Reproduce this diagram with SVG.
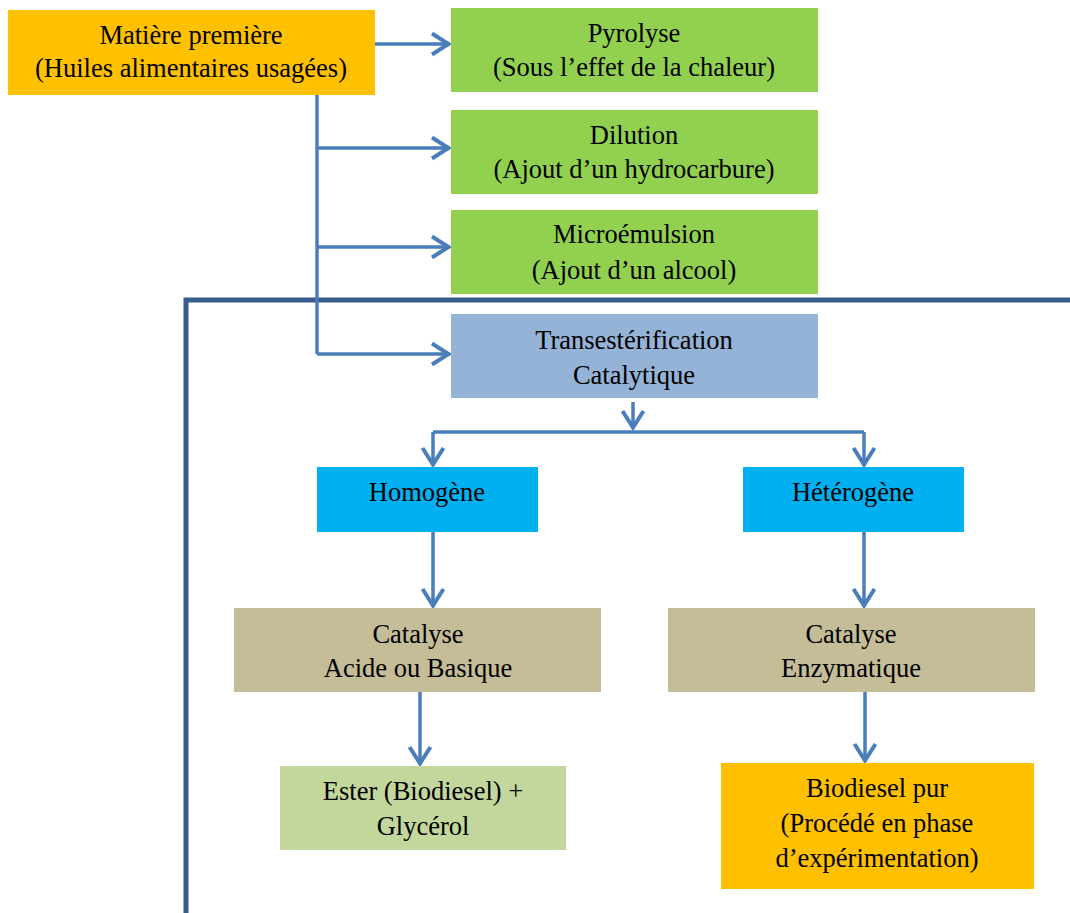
<svg xmlns="http://www.w3.org/2000/svg" width="1070" height="913" viewBox="0 0 1070 913">
<style>
text{font-size:26.5px;fill:#000;text-anchor:middle}
.c{fill:none;stroke:#4A7EBB;stroke-width:3.5}
.frame{fill:none;stroke:#385D8A;stroke-width:5}
</style>
<defs>
<marker id="ah" markerUnits="userSpaceOnUse" markerWidth="30" markerHeight="30" viewBox="-20 -15 30 30" refX="0" refY="0" orient="auto" overflow="visible">
<path d="M-18,-10.5 L-1.5,0 L-18,10.5" fill="none" stroke="#4A7EBB" stroke-width="4"/>
</marker>
</defs>
<rect width="1070" height="913" fill="#fff"/>
<g id="frame"><path class="frame" d="M186,913 V300 H1070"/></g>
<g id="connectors">
<path class="c" d="M375,44 H450" marker-end="url(#ah)"/>
<path class="c" d="M317,95 V354"/>
<path class="c" d="M317,148 H450" marker-end="url(#ah)"/>
<path class="c" d="M317,247 H450" marker-end="url(#ah)"/>
<path class="c" d="M317,354 H450" marker-end="url(#ah)"/>
<path class="c" d="M633,402 V429" marker-end="url(#ah)"/>
<path class="c" d="M433,432 H864"/>
<path class="c" d="M433,432 V466" marker-end="url(#ah)"/>
<path class="c" d="M864,432 V466" marker-end="url(#ah)"/>
<path class="c" d="M433,532 V607" marker-end="url(#ah)"/>
<path class="c" d="M864,532 V607" marker-end="url(#ah)"/>
<path class="c" d="M420,692 V765" marker-end="url(#ah)"/>
<path class="c" d="M865,692 V762" marker-end="url(#ah)"/>
</g>
<g font-family="Liberation Serif, Times New Roman, serif">
<g id="matiere"><rect x="8" y="10" width="367" height="85" fill="#FFC000"/><text x="191" y="44">Matière première</text><text x="191" y="77">(Huiles alimentaires usagées)</text></g>
<g id="pyrolyse"><rect x="451" y="8" width="367" height="84" fill="#92D050"/><text x="634" y="42">Pyrolyse</text><text x="634" y="76">(Sous l’effet de la chaleur)</text></g>
<g id="dilution"><rect x="451" y="110" width="367" height="84" fill="#92D050"/><text x="634" y="144">Dilution</text><text x="634" y="178">(Ajout d’un hydrocarbure)</text></g>
<g id="microemulsion"><rect x="451" y="210" width="367" height="84" fill="#92D050"/><text x="634" y="243">Microémulsion</text><text x="634" y="279">(Ajout d’un alcool)</text></g>
<g id="transesterification"><rect x="451" y="314" width="367" height="84" fill="#95B3D7"/><text x="634" y="349">Transestérification</text><text x="634" y="384">Catalytique</text></g>
<g id="homogene"><rect x="317" y="467" width="221" height="65" fill="#00B0F0"/><text x="427" y="501">Homogène</text></g>
<g id="heterogene"><rect x="743" y="467" width="221" height="65" fill="#00B0F0"/><text x="853" y="501">Hétérogène</text></g>
<g id="catalyse-acide"><rect x="234" y="608" width="367" height="84" fill="#C4BD97"/><text x="418" y="643">Catalyse</text><text x="418" y="677">Acide ou Basique</text></g>
<g id="catalyse-enzymatique"><rect x="668" y="608" width="367" height="84" fill="#C4BD97"/><text x="851" y="643">Catalyse</text><text x="851" y="677">Enzymatique</text></g>
<g id="ester"><rect x="280" y="766" width="286" height="84" fill="#C3D69B"/><text x="423" y="800">Ester (Biodiesel) +</text><text x="423" y="835">Glycérol</text></g>
<g id="biodiesel"><rect x="721" y="763" width="313" height="126" fill="#FFC000"/><text x="877" y="797">Biodiesel pur</text><text x="877" y="832">(Procédé en phase</text><text x="877" y="867">d’expérimentation)</text></g>
</g>
</svg>
